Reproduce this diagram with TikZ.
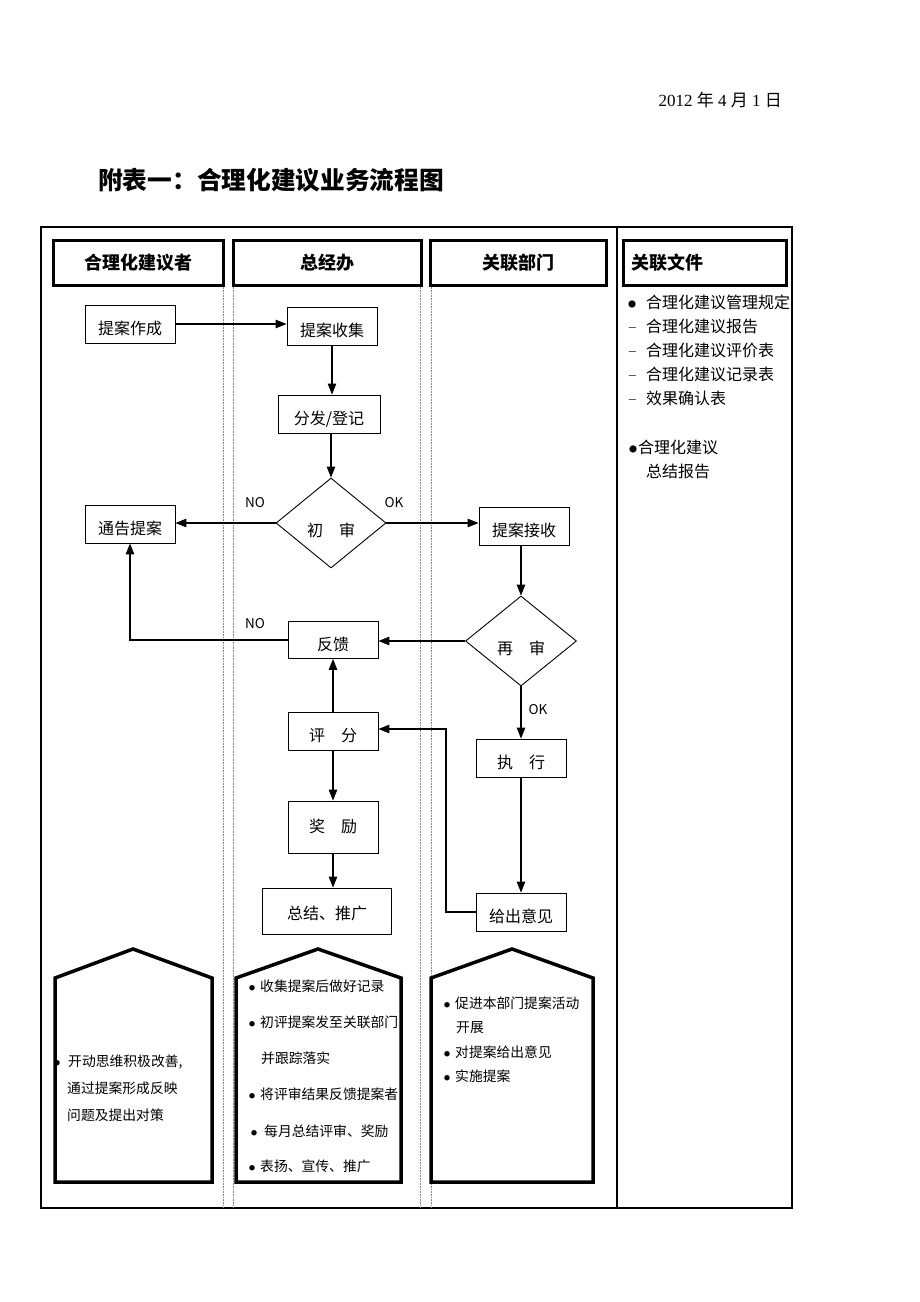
\documentclass[tikz,border=0pt]{standalone}
\usepackage{fontspec}
\setmainfont{Liberation Serif}
\newfontfamily\cjk{Noto Sans CJK SC}
\usetikzlibrary{shapes.geometric,arrows.meta}
\newcommand{\pbul}{\makebox[11pt][l]{\raisebox{1pt}{\fontsize{6}{6}\selectfont ●}}}
\newcommand{\pbulw}{\makebox[13pt][l]{\raisebox{1pt}{\fontsize{6}{6}\selectfont ●}}}
\tikzset{
  lanehead/.style={draw, line width=3pt, inner sep=0pt, font=\cjk\bfseries\fontsize{18}{18}\selectfont},
  fbox/.style={draw, line width=0.9pt, inner sep=0pt, minimum width=90pt, minimum height=38pt, text height=22pt, text depth=2pt, font=\cjk\fontsize{16}{16}\selectfont},
  fdia/.style={draw, diamond, line width=0.9pt, inner sep=0pt, minimum width=110pt, minimum height=90pt, text height=28pt, text depth=2pt, font=\cjk\fontsize{16}{16}\selectfont},
  arr/.style={line width=1.1pt, -{Triangle[length=11pt,width=8.5pt]}},
  lbl/.style={font=\cjk\fontsize{13.5}{13.5}\selectfont},
  pent/.style={line width=3.5pt, line join=miter},
  ptxt/.style={anchor=west, inner sep=0pt, font=\cjk\fontsize{13.8}{13.8}\selectfont},
  rtxt/.style={anchor=west, inner sep=0pt, font=\cjk\fontsize{16}{16}\selectfont},
  lanesep/.style={gray, densely dotted, line width=0.6pt}
}
\begin{document}
\begin{tikzpicture}[x=1pt,y=-1pt]
\useasboundingbox (0,0) rectangle (920,1302);
% date and title
\node[anchor=east, inner sep=0pt, font=\fontsize{17}{17}\selectfont] (date) at (782,100) {2012 {\cjk 年} 4 {\cjk 月} 1 {\cjk 日}};
\node[anchor=west, inner sep=0pt, font=\cjk\bfseries\fontsize{24.7}{24.7}\selectfont] (title) at (98,180) {附表一：合理化建议业务流程图};
% frame
\draw[line width=2pt] (41,227) rectangle (792,1208);
\draw[line width=1.3pt] (617,227) -- (617,1208);
\foreach \x in {223,233,420,431} \draw[lanesep] (\x,285) -- (\x,1207);
% lane headers
\node[lanehead, minimum width=170pt, minimum height=45pt] (h1) at (138,262.5) {合理化建议者};
\node[lanehead, minimum width=188pt, minimum height=45pt] (h2) at (327,262.5) {总经办};
\node[lanehead, minimum width=176pt, minimum height=45pt] (h3) at (518,262.5) {关联部门};
\node[lanehead, minimum width=163pt, minimum height=45pt, text width=147pt, align=left] (h4) at (704.5,262.5) {关联文件};
% flow nodes
\node[fbox] (zuocheng) at (130,324) {提案作成};
\node[fbox] (shouji) at (332,326) {提案收集};
\node[fbox, minimum width=102pt] (fenfa) at (329,414) {分发/登记};
\node[fdia] (chushen) at (331,523) {初\quad 审};
\node[fbox] (tonggao) at (130,524) {通告提案};
\node[fbox] (jieshou) at (524,526) {提案接收};
\node[fdia, minimum width=111pt] (zaishen) at (521,641) {再\quad 审};
\node[fbox, minimum height=37pt] (fankui) at (333,640) {反馈};
\node[fbox] (pingfen) at (333,731) {评\quad 分};
\node[fbox] (zhixing) at (521,758) {执\quad 行};
\node[fbox, minimum height=52pt, text height=12pt] (jiangli) at (333,827) {奖\quad 励};
\node[fbox, minimum width=129pt, minimum height=46pt, text height=18pt] (zongjie) at (327,911) {总结、推广};
\node[fbox] (yijian) at (521,912) {给出意见};
% labels
\node[lbl] (no1) at (255,503) {NO};
\node[lbl] (ok1) at (394,503) {OK};
\node[lbl] (no2) at (255,624) {NO};
\node[lbl] (ok2) at (538,710) {OK};
% connectors
\draw[arr] (zuocheng.east) -- (zuocheng.east -| shouji.west);
\draw[arr] (shouji.south) -- (shouji.south |- fenfa.north);
\draw[arr] (fenfa.south -| chushen.north) -- (chushen.north);
\draw[arr] (chushen.west) -- (chushen.west -| tonggao.east);
\draw[arr] (chushen.east) -- (chushen.east -| jieshou.west);
\draw[arr] (jieshou.south -| zaishen.north) -- (zaishen.north);
\draw[arr] (zaishen.west) -- (zaishen.west -| fankui.east);
\draw[arr] (fankui.west) -| (tonggao.south);
\draw[arr] (pingfen.north) -- (fankui.south);
\draw[arr] (zaishen.south) -- (zaishen.south |- zhixing.north);
\draw[arr] (pingfen.south) -- (jiangli.north);
\draw[arr] (jiangli.south) -- (jiangli.south |- zongjie.north);
\draw[arr] (zhixing.south) -- (yijian.north);
\coordinate (bend) at (446,912);
\draw[arr] (yijian.west) -- (bend) |- ([yshift=2pt]pingfen.east);
% right column documents
\node[rtxt] (d1) at (628,302) {\makebox[18pt][l]{\raisebox{1pt}{\fontsize{8}{8}\selectfont ●}}合理化建议管理规定};
\node[rtxt, text=gray!70!black] (d2) at (628,326) {\makebox[18pt][l]{–}\textcolor{black}{合理化建议报告}};
\node[rtxt, text=gray!70!black] (d3) at (628,350) {\makebox[18pt][l]{–}\textcolor{black}{合理化建议评价表}};
\node[rtxt, text=gray!70!black] (d4) at (628,374) {\makebox[18pt][l]{–}\textcolor{black}{合理化建议记录表}};
\node[rtxt, text=gray!70!black] (d5) at (628,398) {\makebox[18pt][l]{–}\textcolor{black}{效果确认表}};
\node[rtxt] (d6) at (629,447) {\makebox[9pt][l]{\raisebox{1pt}{\fontsize{8}{8}\selectfont ●}}合理化建议};
\node[rtxt] (d7) at (646,471) {总结报告};
% pentagons
\draw[pent] (55,1182) -- (55,978) -- (133,949) -- (212,978) -- (212,1182) -- cycle;
\draw[pent] (236,1182) -- (236,978) -- (318,949) -- (401,978) -- (401,1182) -- cycle;
\draw[pent] (431,1182) -- (431,978) -- (512,949) -- (593,978) -- (593,1182) -- cycle;
% lane 1 text
\node[ptxt] (p1a) at (54,1062) {\makebox[14pt][l]{\raisebox{1pt}{\fontsize{6}{6}\selectfont ●}}开动思维积极改善,};
\node[ptxt] (p1b) at (67,1088) {通过提案形成反映};
\node[ptxt] (p1c) at (67,1115) {问题及提出对策};
% lane 2 text
\node[ptxt] (p2a) at (249,986) {\pbul 收集提案后做好记录};
\node[ptxt] (p2b) at (249,1022) {\pbul 初评提案发至关联部门};
\node[ptxt] (p2c) at (261,1058) {并跟踪落实};
\node[ptxt] (p2d) at (249,1094) {\pbul 将评审结果反馈提案者};
\node[ptxt] (p2e) at (251,1131) {\pbulw 每月总结评审、奖励};
\node[ptxt] (p2f) at (249,1166) {\pbul 表扬、宣传、推广};
% lane 3 text
\node[ptxt] (p3a) at (444,1003) {\pbul 促进本部门提案活动};
\node[ptxt] (p3b) at (456,1028) {开展};
\node[ptxt] (p3c) at (444,1052) {\pbul 对提案给出意见};
\node[ptxt] (p3d) at (444,1076) {\pbul 实施提案};
\end{tikzpicture}
\end{document}
